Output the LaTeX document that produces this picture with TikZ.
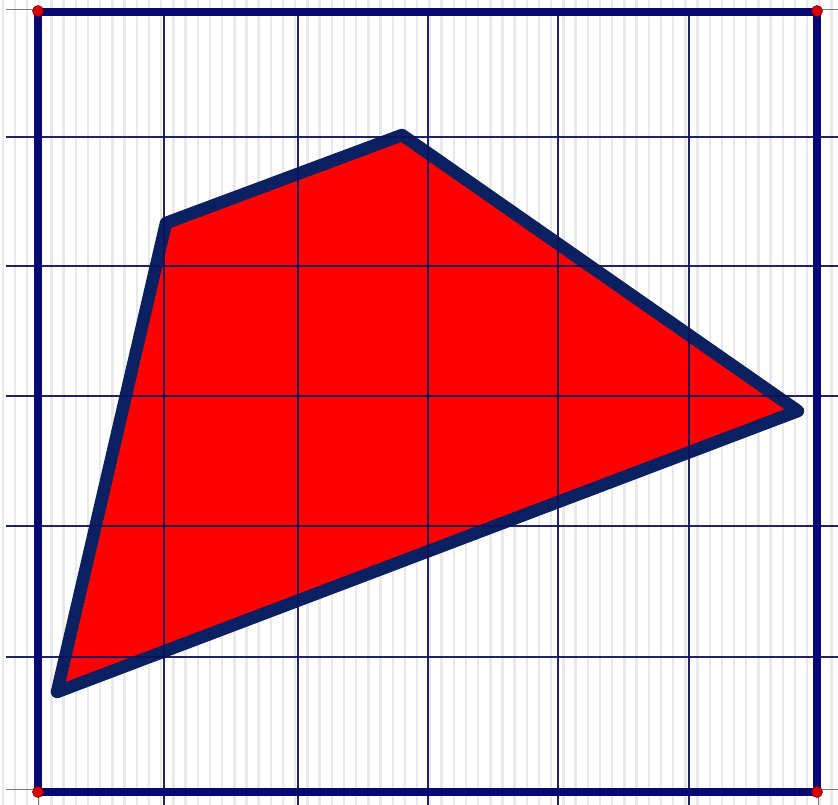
\documentclass[tikz,border=0pt]{standalone}
\usetikzlibrary{calc}
\definecolor{gridnavy}{RGB}{16,16,90}
\definecolor{framenavy}{RGB}{8,8,115}
\definecolor{polynavy}{RGB}{10,32,96}
\definecolor{stripe}{RGB}{233,233,233}
\definecolor{extgrey}{RGB}{120,120,140}
\tikzset{
  minorstripe/.style={draw=stripe, line width=2.4pt},
  gridline/.style={draw=gridnavy, line width=2.8pt, opacity=0.92},
  extline/.style={draw=extgrey, line width=0.8pt},
  frameline/.style={draw=framenavy, line width=7.5pt},
  shapeline/.style={draw=polynavy, fill=red, line width=12.5pt, line join=round},
  cornerdot/.style={fill=red!85!black, draw=red!50!black, line width=0.6pt},
}
\begin{document}
\begin{tikzpicture}[x=1pt,y=-1pt]
\useasboundingbox (0,0) rectangle (838,805);
\fill[white] (0,0) rectangle (838,805);
% minor vertical stripes
\foreach \k in {0,...,68} {
  \draw[minorstripe] ({2.7+12.19*\k},0) -- ({2.7+12.19*\k},805);
}
% polygon
\coordinate (A) at (57,692);
\coordinate (B) at (166,223);
\coordinate (C) at (402,135);
\coordinate (D) at (798,411);
\draw[shapeline] (A) -- (B) -- (C) -- (D) -- cycle;
% extensions of frame lines beyond the frame
\draw[extline] (6,9) -- (38,9);
\draw[extline] (818,9) -- (838,9);
\draw[extline] (6,789) -- (38,789);
\draw[extline] (818,789) -- (838,789);
\draw[extline] (38,792) -- (38,805);
\draw[extline] (818,792) -- (818,805);
% interior grid lines
\foreach \x in {164,298,428,558,689} {
  \draw[gridline] (\x,12) -- (\x,805);
}
\foreach \y in {137,266,396,526,657} {
  \draw[gridline] (6,\y) -- (838,\y);
}
% frame
\draw[frameline] (38,12) -- (818,12);
\draw[frameline] (38,792) -- (818,792);
\draw[frameline] (38,12) -- (38,792);
\draw[frameline] (817,12) -- (817,792);
% corner dots
\foreach \p in {(38,11),(817,11),(38,792),(817,792)} {
  \fill[cornerdot] \p circle (5.5);
}
\end{tikzpicture}
\end{document}
